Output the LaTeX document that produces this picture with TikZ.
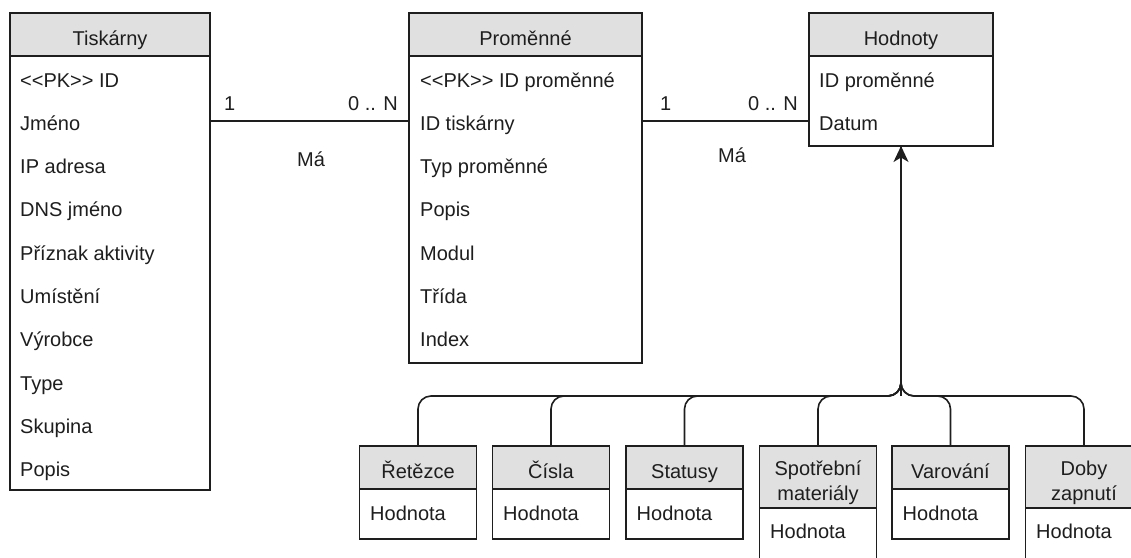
\documentclass[tikz,border=0pt]{standalone}
\usepackage{fontspec}
\setmainfont{Liberation Sans}
\usetikzlibrary{arrows.meta}
\definecolor{hdrgray}{HTML}{E0E0E0}
\definecolor{ink}{HTML}{1E1E1E}
\begin{document}
\begin{tikzpicture}[x=1pt,y=-1pt,
  font=\fontsize{20}{25}\selectfont,
  box/.style={draw=ink, line width=1.6pt, inner sep=0pt, outer sep=0pt, anchor=north west},
  hdr/.style={box, fill=hdrgray},
  body/.style={box, fill=white},
  title/.style={anchor=base, inner sep=0pt, align=center, text=ink},
  attr/.style={anchor=base west, inner sep=0pt, text=ink},
  card/.style={inner sep=0pt, text=ink},
  link/.style={draw=ink, line width=1.6pt},
  ]
\useasboundingbox (0,0) rectangle (1131,557);
\clip (0,0) rectangle (1131,557);

% --- Tiskárny ---
\node[hdr, minimum width=200, minimum height=43] (tisk-hdr) at (10,13) {};
\node[body, minimum width=200, minimum height=434] (tisk-body) at (10,56) {};
\node[title] (tisk-title) at (110,45) {Tiskárny};
\foreach \t [count=\i from 0] in {<\kern0pt<PK>\kern0pt> ID, Jméno, IP adresa, DNS jméno,
    Příznak aktivity, Umístění, Výrobce, Type, Skupina, Popis}
  \node[attr] (tisk-r\i) at (20,{87+43.33*\i}) {\t};

% --- Proměnné ---
\node[hdr, minimum width=233, minimum height=43] (prom-hdr) at (409,13) {};
\node[body, minimum width=233, minimum height=307] (prom-body) at (409,56) {};
\node[title] (prom-title) at (525.5,45) {Proměnné};
\foreach \t [count=\i from 0] in {<\kern0pt<PK>\kern0pt> ID proměnné, ID tiskárny,
    Typ proměnné, Popis, Modul, Třída, Index}
  \node[attr] (prom-r\i) at (420,{87+43.33*\i}) {\t};

% --- Hodnoty ---
\node[hdr, minimum width=184, minimum height=43] (hod-hdr) at (809,13) {};
\node[body, minimum width=184, minimum height=90] (hod-body) at (809,56) {};
\node[title] (hod-title) at (901,45) {Hodnoty};
\foreach \t [count=\i from 0] in {ID proměnné, Datum}
  \node[attr] (hod-r\i) at (819,{87+43.33*\i}) {\t};

% --- relationships ---
\coordinate (rel) at (0,121);
\draw[link] (tisk-body.east |- rel) -- (prom-body.west |- rel);
\node[card, anchor=base west] (c1a) at (224,110) {1};
\node[card, anchor=base east] (c1b) at (398,110) {0 .. N};
\node[card, anchor=base] (c1m) at (311,166) {Má};

\draw[link] (prom-body.east |- rel) -- (hod-body.west |- rel);
\node[card, anchor=base west] (c2a) at (660,110) {1};
\node[card, anchor=base east] (c2b) at (798,110) {0 .. N};
\node[card, anchor=base] (c2m) at (732,162) {Má};

% --- specialisations of Hodnoty (base = baseline of the last title line) ---
\coordinate (bus) at (901,396);
\foreach \n/\x/\h/\b/\tb/\vb/\ttl in {
    ret/418/43/50/478/520/{Řetězce},
    cis/551/43/50/478/520/{Čísla},
    sta/684.5/43/50/478/520/{Statusy},
    spo/818/62/80/500/538/{Spotřební\\materiály},
    var/950.5/43/50/478/520/{Varování},
    dob/1084/62/80/500/538/{Doby\\zapnutí}}
{
  \node[hdr, minimum width=117, minimum height=\h] (\n-hdr) at ({\x-58.5},446) {};
  \node[body, minimum width=117, minimum height=\b] (\n-body) at ({\x-58.5},{446+\h}) {};
  \node[title] (\n-title) at (\x,\tb) {\ttl};
  \node[attr] (\n-val) at ({\x-48},\vb) {Hodnota};
  \draw[link, rounded corners=13pt] (\n-hdr.north) |- (bus) -- (hod-body.south);
}
\draw[link, -{Stealth[length=16pt, width=15pt, inset=4.5pt]}] (bus) -- (hod-body.south);
\end{tikzpicture}
\end{document}
